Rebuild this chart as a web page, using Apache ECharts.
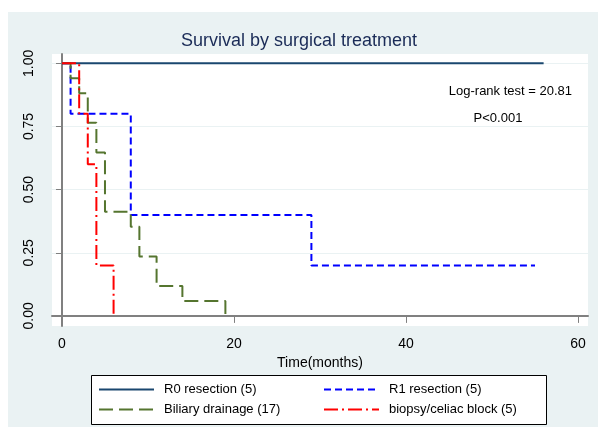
<!DOCTYPE html>
<html>
<head>
<meta charset="utf-8">
<script src="https://cdn.jsdelivr.net/npm/echarts@6/dist/echarts.min.js"></script>
<style>
  html, body { margin: 0; padding: 0; background: #fff; }
  #chart { width: 598px; height: 438px; }
</style>
</head>
<body>
<div id="chart"></div>
<script>
// Kaplan-Meier steps
var r0Time = [0, 56];
var r0Surv = [1, 1];
var r1Time = [0, 1, 8, 29, 55];
var r1Surv = [1, 0.8, 0.4, 0.2, 0.2];
var biliaryTime = [0, 1, 2, 3, 4, 5, 8, 9, 11, 14, 19];
var biliarySurv = [1, 0.941, 0.882, 0.765, 0.647, 0.412, 0.353, 0.235, 0.118, 0.059, 0];
var biopsyTime = [0, 2, 3, 4, 6];
var biopsySurv = [1, 0.8, 0.6, 0.2, 0];

var xTicks = [0, 20, 40, 60];
var yTicks = [0, 0.25, 0.5, 0.75, 1];

function pairs(t, s) {
    return t.map(function (v, i) { return [v, s[i]]; });
}

var myChart = echarts.init(document.getElementById('chart'));
var font = 'Liberation Sans, Arial, sans-serif';

var legendBase = {
    orient: 'vertical',
    top: 383,
    padding: 0,
    itemWidth: 55,
    itemHeight: 14,
    itemGap: 7,
    itemStyle: { opacity: 0 },
    textStyle: { fontSize: 13, color: '#000', padding: [0, 0, 0, 5] }
};

var option = {
    backgroundColor: '#fff',
    textStyle: { fontFamily: font },
    animation: false,
    title: {
        text: 'Survival by surgical treatment',
        left: 'center',
        top: 27,
        textStyle: { fontSize: 18, fontWeight: 'normal', color: '#1a2b57', fontFamily: font }
    },
    grid: {
        left: 52,
        right: 10,
        top: 54,
        bottom: 112,
        show: true,
        backgroundColor: '#fff',
        borderWidth: 0
    },
    legend: [
        Object.assign({}, legendBase, { left: 98, data: ['R0 resection (5)', 'Biliary drainage (17)'] }),
        Object.assign({}, legendBase, { left: 323, data: ['R1 resection (5)', 'biopsy/celiac block (5)'] })
    ],
    graphic: [
        {
            type: 'rect', z: -10, silent: true,
            shape: { x: 8, y: 12, width: 590, height: 415 },
            style: { fill: '#eaf2f3' }
        },
        {
            type: 'rect', z: -5, silent: true,
            shape: { x: 91.5, y: 375.5, width: 455, height: 49 },
            style: { fill: '#fff', stroke: '#000', lineWidth: 1 }
        },
        {
            type: 'text', silent: true,
            x: 572, y: 91,
            style: { text: 'Log-rank test = 20.81', fontSize: 13, fill: '#000', align: 'right', verticalAlign: 'middle', fontFamily: font }
        },
        {
            type: 'text', silent: true,
            x: 498, y: 118,
            style: { text: 'P<0.001', fontSize: 13, fill: '#000', align: 'center', verticalAlign: 'middle', fontFamily: font }
        }
    ],
    xAxis: {
        type: 'value',
        min: -1.16,
        max: 61.16,
        name: 'Time(months)',
        nameLocation: 'middle',
        nameGap: 25,
        nameTextStyle: { fontSize: 14, color: '#000' },
        axisLine: { show: true, lineStyle: { color: '#808080', width: 2 } },
        axisTick: { show: true, length: 7, customValues: xTicks, lineStyle: { color: '#808080' } },
        axisLabel: { customValues: xTicks, fontSize: 14, color: '#000', margin: 11 },
        splitLine: { show: false }
    },
    yAxis: {
        type: 'value',
        min: -0.04,
        max: 1.037,
        axisLine: { show: true, lineStyle: { color: '#808080', width: 2 } },
        axisTick: { show: true, length: 6, customValues: yTicks, lineStyle: { color: '#808080' } },
        axisLabel: {
            customValues: yTicks,
            fontSize: 14,
            color: '#000',
            rotate: 90,
            margin: 16,
            formatter: function (v) { return v.toFixed(2); }
        },
        splitLine: { show: true, lineStyle: { color: '#eaf2f3', width: 1 } }
    },
    series: [
        {
            name: 'R0 resection (5)',
            type: 'line',
            step: 'end',
            symbol: 'none',
            color: '#1a476f',
            lineStyle: { color: '#1a476f', width: 2 },
            data: pairs(r0Time, r0Surv)
        },
        {
            name: 'R1 resection (5)',
            type: 'line',
            step: 'end',
            symbol: 'none',
            color: '#0000ff',
            lineStyle: { color: '#0000ff', width: 2, type: [7, 4] },
            data: pairs(r1Time, r1Surv)
        },
        {
            name: 'Biliary drainage (17)',
            type: 'line',
            step: 'end',
            symbol: 'none',
            color: '#55752f',
            lineStyle: { color: '#55752f', width: 2, type: [14, 6] },
            data: pairs(biliaryTime, biliarySurv)
        },
        {
            name: 'biopsy/celiac block (5)',
            type: 'line',
            step: 'end',
            symbol: 'none',
            color: '#ff0000',
            lineStyle: { color: '#ff0000', width: 2, type: [14, 4, 2, 4] },
            data: pairs(biopsyTime, biopsySurv)
        }
    ]
};

myChart.setOption(option);
</script>
</body>
</html>
